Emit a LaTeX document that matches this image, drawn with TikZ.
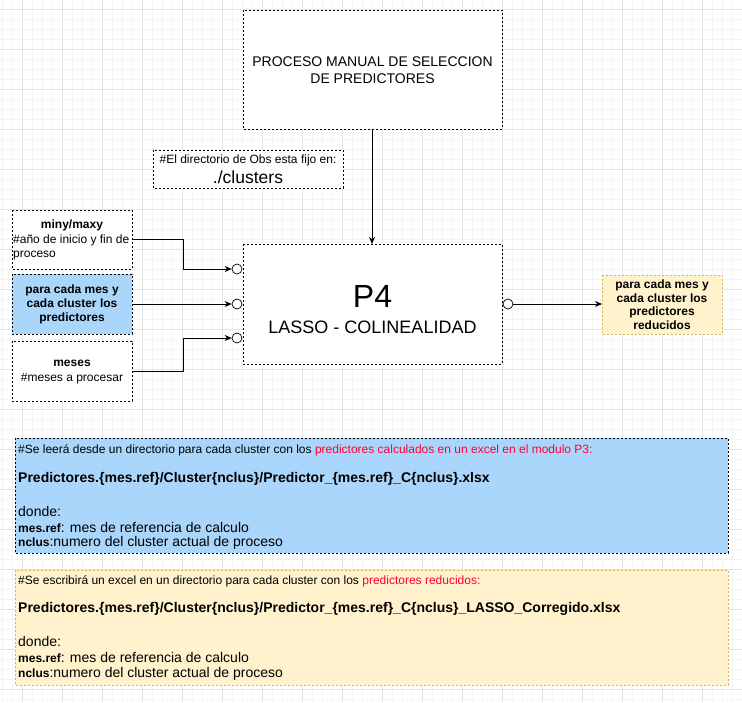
\documentclass[tikz,border=0pt]{standalone}
\usepackage{fontspec}
\setmainfont{Liberation Sans}
\usetikzlibrary{arrows.meta}
\definecolor{bluefill}{HTML}{ABD6FB}
\definecolor{yelfill}{HTML}{FFF2CC}
\definecolor{yelline}{HTML}{D6B656}
\definecolor{redtxt}{HTML}{FF0033}
\definecolor{gridminor}{HTML}{F4F4F4}
\definecolor{gridmajor}{HTML}{E2E2E2}
\tikzset{
  px/.style={x=1pt,y=-1pt},
  dbox/.style={draw=black, dashed, dash pattern=on 2pt off 2pt, line width=0.8pt, inner sep=0pt, outer sep=0pt},
  ybox/.style={draw=yelline, fill=yelfill, dash pattern=on 2pt off 2pt, line width=0.8pt, inner sep=0pt, outer sep=0pt},
  conn/.style={draw=black, line width=0.9pt, -{Stealth[length=7pt,width=6pt]}},
  port/.style={circle, draw=black, fill=white, line width=0.7pt, minimum size=10pt, inner sep=0pt},
  txt/.style={inner sep=0pt, align=center},
  smalltxt/.style={font=\fontsize{12}{14}\selectfont},
}
\begin{document}
\begin{tikzpicture}[px]
\useasboundingbox (0,0) rectangle (742,702);
% grid
\foreach \x in {2,12,...,742} \draw[gridminor, line width=0.6pt] (\x,0) -- (\x,702);
\foreach \y in {-1,9,...,702} \draw[gridminor, line width=0.6pt] (0,\y) -- (742,\y);
\foreach \x in {22,62,...,742} \draw[gridmajor, line width=0.6pt] (\x,0) -- (\x,702);
\foreach \y in {9,49,...,702} \draw[gridmajor, line width=0.6pt] (0,\y) -- (742,\y);

% top box
\draw[dbox, fill=white] (243,10) rectangle (502,129);
\node[txt, font=\fontsize{14}{17}\selectfont] (manual) at (372.5,70) {PROCESO MANUAL DE SELECCION\\DE PREDICTORES};
\coordinate (manualb) at (372,129);

% obs box
\draw[dbox, fill=white] (153,150) rectangle (343,188);
\node[txt, smalltxt] (obs1) at (248,160) {\#El directorio de Obs esta fijo en:};
\node[txt, font=\fontsize{17.5}{19}\selectfont] (obs2) at (248,177) {./clusters};

% P4 box
\draw[dbox, fill=white] (243,244) rectangle (502,364);
\coordinate (p4t) at (372,244);
\node[txt, font=\fontsize{32}{34}\selectfont] (p4) at (372.5,296) {P4};
\node[txt, font=\fontsize{18}{20}\selectfont] (lasso) at (372.5,327) {LASSO - COLINEALIDAD};

% ports
\node[port] (pin1) at (237,269) {};
\node[port] (pin2) at (237,304) {};
\node[port] (pin3) at (237,338) {};
\node[port] (pout) at (508,304) {};

% left boxes
\draw[dbox, fill=white] (12,210) rectangle (132,269);
\node[txt, font=\fontsize{12}{14}\selectfont\bfseries] (miny) at (72,225) {miny/maxy};
\node[inner sep=0pt, anchor=west, align=left, font=\fontsize{12}{14}\selectfont] (minyt) at (13,247) {\#año de inicio y fin de\\proceso};
\coordinate (minyr) at (132,239);

\draw[dbox, fill=bluefill] (12,274) rectangle (132,334);
\node[txt, font=\fontsize{12}{14}\selectfont\bfseries] (pred) at (72,304) {para cada mes y\\cada cluster los\\predictores};
\coordinate (predr) at (132,304);

\draw[dbox, fill=white] (12,341) rectangle (132,401);
\node[txt, font=\fontsize{12}{15}\selectfont] (meses) at (72,372) {\textbf{meses}\\\#meses a procesar};
\coordinate (mesesr) at (132,371);

% output box
\draw[ybox] (602,275) rectangle (722,334);
\node[txt, font=\fontsize{12}{13.5}\selectfont\bfseries] (outp) at (662,304.5) {para cada mes y\\cada cluster los\\predictores\\reducidos};
\coordinate (outl) at (602,304);

% connectors
\draw[conn] (manualb) -- (p4t);
\draw[conn] (minyr) -- (183,239) -- (183,269) -- (pin1.west);
\draw[conn] (predr) -- (pin2.west);
\draw[conn] (mesesr) -- (183,371) -- (183,338) -- (pin3.west);
\draw[conn] (pout.east) -- (outl);

% big blue box
\draw[dbox, fill=bluefill] (15,438) rectangle (728,553);
\node[inner sep=0pt, anchor=west, smalltxt] (b1) at (18,450) {\#Se leerá desde un directorio para cada cluster con los \textcolor{redtxt}{predictores calculados en un excel en el modulo P3:}};
\node[inner sep=0pt, anchor=west, font=\fontsize{14}{16}\selectfont\bfseries] (b2) at (18,479) {Predictores.\{mes.ref\}/Cluster\{nclus\}/Predictor\_\{mes.ref\}\_C\{nclus\}.xlsx};
\node[inner sep=0pt, anchor=west, font=\fontsize{14}{16}\selectfont] (b3) at (18,511) {donde:};
\node[inner sep=0pt, anchor=west, font=\fontsize{14}{16}\selectfont] (b4) at (18,527) {{\fontsize{12}{14}\selectfont\bfseries mes.ref}: mes de referencia de calculo};
\node[inner sep=0pt, anchor=west, font=\fontsize{14}{16}\selectfont] (b5) at (18,543) {{\fontsize{12}{14}\selectfont\bfseries nclus}:numero del cluster actual de proceso};

% big yellow box
\draw[ybox] (15,570) rectangle (728,685);
\node[inner sep=0pt, anchor=west, smalltxt] (y1) at (18,581) {\#Se escribirá un excel en un directorio para cada cluster con los \textcolor{redtxt}{predictores reducidos:}};
\node[inner sep=0pt, anchor=west, font=\fontsize{14}{16}\selectfont\bfseries] (y2) at (18,609) {Predictores.\{mes.ref\}/Cluster\{nclus\}/Predictor\_\{mes.ref\}\_C\{nclus\}\_LASSO\_Corregido.xlsx};
\node[inner sep=0pt, anchor=west, font=\fontsize{14}{16}\selectfont] (y3) at (18,641) {donde:};
\node[inner sep=0pt, anchor=west, font=\fontsize{14}{16}\selectfont] (y4) at (18,657) {{\fontsize{12}{14}\selectfont\bfseries mes.ref}: mes de referencia de calculo};
\node[inner sep=0pt, anchor=west, font=\fontsize{14}{16}\selectfont] (y5) at (18,674) {{\fontsize{12}{14}\selectfont\bfseries nclus}:numero del cluster actual de proceso};
\end{tikzpicture}
\end{document}
